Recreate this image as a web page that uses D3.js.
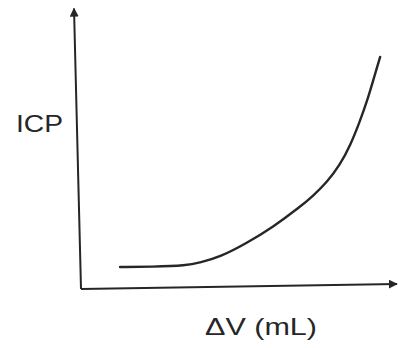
<!DOCTYPE html>
<html>
<head>
<meta charset="utf-8">
<script src="https://cdn.jsdelivr.net/npm/d3@7"></script>
<style>
  html, body { margin: 0; padding: 0; background: #fff; }
  svg { display: block; }
</style>
</head>
<body>
<svg id="chart" width="398" height="348"></svg>
<script>
// Data (arbitrary units)
const volume = [1.26, 2.3, 3.4, 3.84, 4.48, 5.35, 6.19, 7.06, 7.48, 7.94, 8.35, 8.68, 9.00, 9.23, 9.42, 9.65];
const icp    = [0.80, 0.81, 0.85, 0.96, 1.16, 1.67, 2.25, 2.98, 3.38, 3.89, 4.51, 5.20, 6.11, 6.84, 7.56, 8.44];
const xLabel = "ΔV (mL)";
const yLabel = "ICP";

const svg = d3.select("#chart");
const x = d3.scaleLinear().domain([0, 10]).range([81, 391]);
const y = d3.scaleLinear().domain([0, 10]).range([289, 14]);

const ink = "#262626";

// Arrow marker
const defs = svg.append("defs");
defs.append("marker")
  .attr("id", "arrow")
  .attr("viewBox", "0 0 10 10")
  .attr("refX", 9).attr("refY", 5)
  .attr("markerWidth", 4.5).attr("markerHeight", 4.5)
  .attr("markerUnits", "strokeWidth")
  .attr("orient", "auto")
  .append("path")
  .attr("d", "M0,0 L10,5 L0,10 z")
  .attr("fill", ink);

// Axes (no ticks), slightly hand-drawn tilt as in the reference
svg.append("path")
  .attr("d", `M${x(0)},${y(0)} L${x(0) - 7},${y(10.2)}`)
  .attr("stroke", ink).attr("stroke-width", 2).attr("fill", "none")
  .attr("marker-end", "url(#arrow)");

svg.append("path")
  .attr("d", `M${x(0)},${y(0)} L${x(10) + 6},${y(0) - 5}`)
  .attr("stroke", ink).attr("stroke-width", 2).attr("fill", "none")
  .attr("marker-end", "url(#arrow)");

// Curve
const pts = volume.map((v, i) => [v, icp[i]]);
svg.append("path")
  .datum(pts)
  .attr("d", d3.line().x(d => x(d[0])).y(d => y(d[1])).curve(d3.curveBasis))
  .attr("stroke", ink).attr("stroke-width", 2.4).attr("fill", "none")
  .attr("stroke-linecap", "round");

// Labels
svg.append("text")
  .attr("x", 16).attr("y", 132)
  .attr("font-family", "Liberation Sans, Arial, sans-serif")
  .attr("font-size", 24)
  .attr("textLength", 47).attr("lengthAdjust", "spacingAndGlyphs")
  .attr("fill", ink)
  .text(yLabel);

svg.append("text")
  .attr("x", 205).attr("y", 335)
  .attr("font-family", "Liberation Sans, Arial, sans-serif")
  .attr("font-size", 24)
  .attr("textLength", 112).attr("lengthAdjust", "spacingAndGlyphs")
  .attr("fill", ink)
  .text(xLabel);
</script>
</body>
</html>
